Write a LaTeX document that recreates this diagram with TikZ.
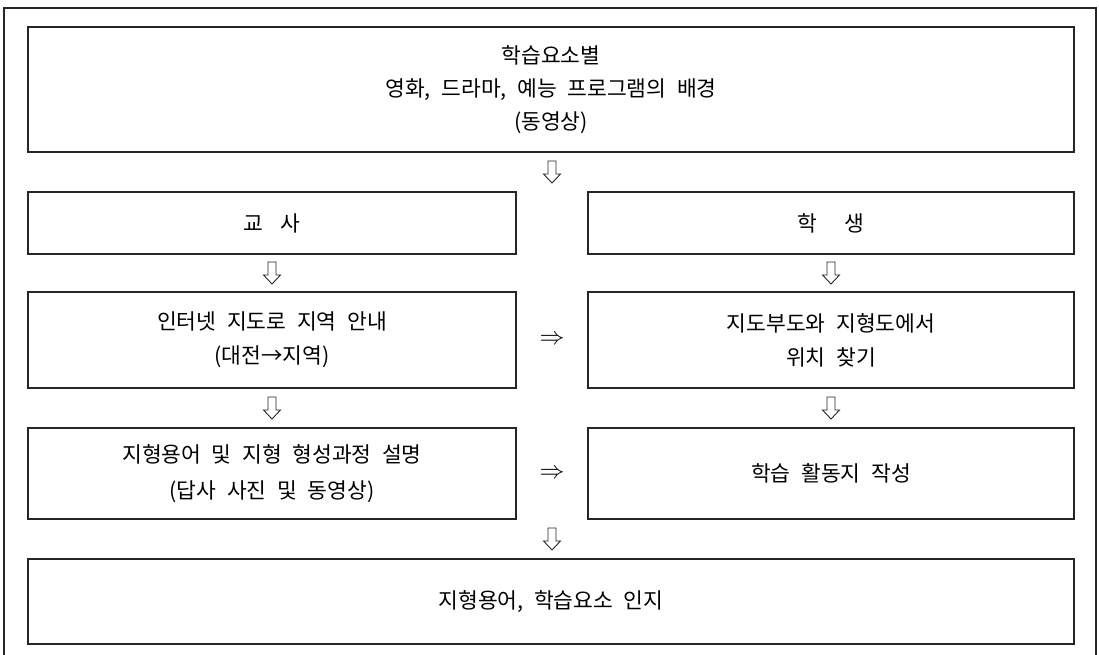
\documentclass[tikz,border=0pt]{standalone}
\usepackage{fontspec}
\newfontfamily\kr[WordSpace=2.2]{Noto Sans CJK KR}
\usetikzlibrary{calc}
\tikzset{
  box/.style={draw=black!85, line width=1.2pt, inner sep=0pt, align=center,
    font=\kr\fontsize{21.5}{34}\selectfont},
  downarr/.pic={\draw[line width=0.9pt, black!85, line join=miter]
    (-4,-11) -- (4,-11) -- (4,2) -- (8.5,2) -- (0,11) -- (-8.5,2) -- (-4,2) -- cycle;},
  rarr/.style={inner sep=0pt, font=\fontsize{26}{28}\selectfont}
}
\begin{document}
\begin{tikzpicture}[x=1pt,y=-1pt]
\useasboundingbox (0,0) rectangle (1099,655);
% outer frame (bottom edge lies outside the picture)
\draw[line width=1.4pt, black!85] (4,655) -- (4,8) -- (1096,8) -- (1096,655);

\node[box, minimum width=1046pt, minimum height=125pt, font=\kr\fontsize{21.5}{33}\selectfont] (top) at (551,89.5)
  {학습요소별\\영화, 드라마, 예능 프로그램의 배경\\(동영상)};

\node[box, minimum width=488pt, minimum height=62pt] (teacher) at (272,223) {교\hspace{0.8em}사};
\node[box, minimum width=486pt, minimum height=62pt] (student) at (831,223) {학\hspace{1.3em}생};

\node[box, minimum width=488pt, minimum height=96pt] (guide) at (272,340)
  {인터넷 지도로 지역 안내\\(대전→지역)};
\node[box, minimum width=486pt, minimum height=96pt] (find) at (831,340)
  {지도부도와 지형도에서\\위치 찾기};

\node[box, minimum width=488pt, minimum height=91pt, font=\kr\fontsize{21.5}{36}\selectfont] (explain) at (272,473.5)
  {지형용어 및 지형 형성과정 설명\\(답사 사진 및 동영상)};
\node[box, minimum width=486pt, minimum height=91pt] (sheet) at (831,473.5)
  {학습 활동지 작성};

\node[box, minimum width=1046pt, minimum height=85pt] (final) at (551,601.5)
  {지형용어, 학습요소 인지};

% hollow down arrows between the boxes
\pic at (552,172) {downarr};
\pic at ($(teacher.south)!0.5!(guide.north)$) {downarr};
\pic at ($(student.south)!0.5!(find.north)$) {downarr};
\pic at ($(guide.south)!0.5!(explain.north)$) {downarr};
\pic at ($(find.south)!0.5!(sheet.north)$) {downarr};
\pic at (552,539) {downarr};

% double right arrows
\node[rarr] (r1) at ($(guide.east)!0.5!(find.west)$) {$\Rightarrow$};
\node[rarr] (r2) at ($(explain.east)!0.5!(sheet.west)$) {$\Rightarrow$};
\end{tikzpicture}
\end{document}
